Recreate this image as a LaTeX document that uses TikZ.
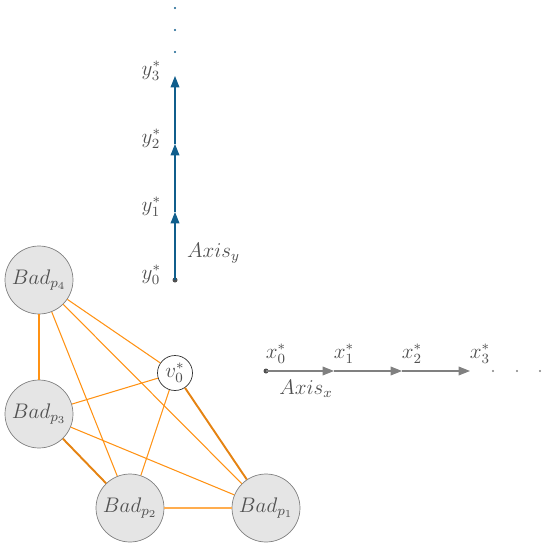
\documentclass[tikz,border=0pt]{standalone}
\usepackage{amsmath,amssymb}
\usepackage{tikz}
\usetikzlibrary{arrows.meta,positioning}
\definecolor{axblue}{RGB}{16,94,140}
\definecolor{edgeorange}{RGB}{255,146,20}
\definecolor{inkgray}{RGB}{80,80,80}
\tikzset{
  badnode/.style={circle,draw=gray,fill=gray!20,minimum size=1.36cm,inner sep=0pt,text=inkgray},
  vnode/.style={circle,draw=black!80,fill=white,minimum size=.7cm,inner sep=0pt,text=inkgray},
  link/.style={draw=edgeorange,line width=.6pt},
  yarrow/.style={draw=axblue,line width=.6pt,-{Triangle[length=6.5pt,width=5pt]}},
  xarrow/.style={draw=gray,line width=.6pt,-{Triangle[length=6.5pt,width=5pt]}},
  lbl/.style={text=inkgray,inner sep=1pt}
}

\begin{document}
\begin{tikzpicture}[x=.02cm,y=-.02cm,font=\fontsize{11.5}{14}\selectfont]
    \useasboundingbox (0,0) rectangle (542,544);
    % vertical axis
    \foreach \i/\yy in {0/280,1/212,2/144,3/76}{
      \coordinate (y\i) at (175,\yy);
      \node[lbl,anchor=east] (ylab\i) at (163,\yy-5) {$y_{\i}^{*}$};
    }
    \fill[inkgray] (y0) circle (2.5);
    \foreach \a/\b in {0/1,1/2,2/3}{\draw[yarrow] (y\a) -- (y\b);}
    \foreach \yy in {52,30,8}{\fill[axblue] (175,\yy) circle (1.1);}
    \node[lbl,anchor=west] (axisy) at (185,253) {$Axis_y$};
    % horizontal axis
    \foreach \i/\xx in {0/266,1/334,2/402,3/470}{
      \coordinate (x\i) at (\xx,371);
      \node[lbl] (xlab\i) at (\xx+10,354) {$x_{\i}^{*}$};
    }
    \fill[inkgray] (x0) circle (2.5);
    \foreach \a/\b in {0/1,1/2,2/3}{\draw[xarrow] (x\a) -- (x\b);}
    \foreach \xx in {493,517,540}{\fill[gray] (\xx,371) circle (1.1);}
    \node[lbl] (axisx) at (306,389) {$Axis_x$};
    % bad set and its links
    \node[badnode] (p4) at (39,280) {$Bad_{p_4}$};
    \node[badnode] (p3) at (39,414) {$Bad_{p_3}$};
    \node[badnode] (p2) at (130,508) {$Bad_{p_2}$};
    \node[badnode] (p1) at (266,508) {$Bad_{p_1}$};
    \node[vnode] (v0) at (175,373) {$v_0^{*}$};
    \draw[link,line width=1pt] (p4) -- (p3);
    \foreach \a/\b in {p4/v0,p4/p2,p4/p1,p3/v0,p3/p1,p2/v0}{\draw[link] (\a) -- (\b);}
    \draw[link,line width=1.1pt,draw=edgeorange!90!black] (p3) -- (p2);
    \draw[link,line width=1.1pt,draw=edgeorange!90!black] (v0) -- (p1);
    \draw[link,line width=1.1pt,draw=edgeorange!75] (p2) -- (p1);
\end{tikzpicture}
\end{document}
